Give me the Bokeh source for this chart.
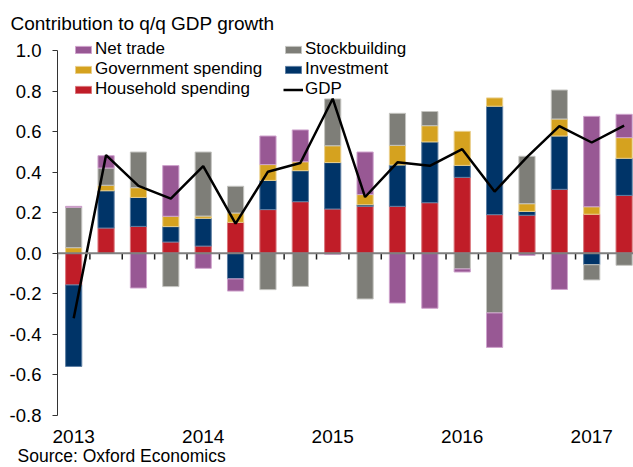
import numpy as np
from bokeh.plotting import figure
from bokeh.models import (Range1d, FixedTicker, Span, Legend, LegendItem,
                          ColumnDataSource, Title)
from bokeh.embed import file_html
from bokeh.resources import INLINE

# ---------------- data ----------------
quarters = ["2013Q1", "2013Q2", "2013Q3", "2013Q4",
            "2014Q1", "2014Q2", "2014Q3", "2014Q4",
            "2015Q1", "2015Q2", "2015Q3", "2015Q4",
            "2016Q1", "2016Q2", "2016Q3", "2016Q4",
            "2017Q1", "2017Q2"]
years = ["2013", "2014", "2015", "2016", "2017"]

household = [-0.156, 0.125, 0.133, 0.056, 0.036, 0.153, 0.216, 0.255, 0.219,
             0.232, 0.232, 0.250, 0.375, 0.191, 0.188, 0.316, 0.193, 0.286]
investment = [-0.402, 0.184, 0.143, 0.076, 0.137, -0.126, 0.144, 0.153, 0.229,
              0.008, 0.204, 0.300, 0.059, 0.535, 0.019, 0.263, -0.056, 0.183]
government = [0.028, 0.027, 0.048, 0.051, 0.011, 0.046, 0.078, 0.044, 0.083,
              0.050, 0.097, 0.080, 0.168, 0.041, 0.038, 0.084, 0.037, 0.102]
stockbuilding = [0.199, 0.085, 0.176, -0.164, 0.316, 0.132, -0.179, -0.163, 0.231,
                 -0.225, 0.158, 0.070, -0.077, -0.294, 0.234, 0.143, -0.075, -0.059]
net_trade = [0.005, 0.061, -0.171, 0.250, -0.074, -0.060, 0.141, 0.157, -0.005,
             0.210, -0.245, -0.271, -0.015, -0.170, -0.010, -0.178, 0.446, 0.115]
gdp = [-0.320, 0.485, 0.333, 0.270, 0.430, 0.147, 0.403, 0.446, 0.763,
       0.278, 0.449, 0.432, 0.514, 0.305, 0.475, 0.628, 0.547, 0.630]

y_ticks = [-0.8, -0.6, -0.4, -0.2, 0.0, 0.2, 0.4, 0.6, 0.8, 1.0]

series_names = ["Household spending", "Investment", "Government spending",
                "Stockbuilding", "Net trade"]
series_values = [household, investment, government, stockbuilding, net_trade]
fill_colors = ["#C01D28", "#003468", "#D5A21F", "#7E7E78", "#985894"]
edge_colors = ["#D9767C", "#5E7FA3", "#E9CF8C", "#C4C4C0", "#CFA3CD"]

FONT = "Liberation Sans"

n = len(quarters)
xc = np.arange(n) + 0.5

p = figure(width=633, height=467, x_range=Range1d(0, 17.79),
           y_range=Range1d(-0.8, 1.07), output_backend="svg",
           toolbar_location=None, min_border_left=57, min_border_right=0,
           min_border_top=36, min_border_bottom=52)
p.outline_line_color = None
p.xgrid.grid_line_color = None
p.ygrid.grid_line_color = None
p.background_fill_color = "white"
p.border_fill_color = "white"

# title
p.title.text = "Contribution to q/q GDP growth"
p.title.text_font = FONT
p.title.text_font_size = "19px"
p.title.text_font_style = "normal"
p.title.text_color = "#000000"
p.title.align = "left"
p.title.offset = -47
p.title.standoff = 5

# stacked bars (positive parts stack upward, negative parts downward)
pos_base = np.zeros(n)
neg_base = np.zeros(n)
renderers = {}
for name, vals, fc, ec in zip(series_names, series_values, fill_colors, edge_colors):
    v = np.array(vals, dtype=float)
    xs, bottoms, tops = [], [], []
    for i in range(n):
        if v[i] > 0:
            xs.append(xc[i]); bottoms.append(pos_base[i]); tops.append(pos_base[i] + v[i])
            pos_base[i] += v[i]
        elif v[i] < 0:
            xs.append(xc[i]); bottoms.append(neg_base[i] + v[i]); tops.append(neg_base[i])
            neg_base[i] += v[i]
    src = ColumnDataSource(dict(x=xs, bottom=bottoms, top=tops))
    r = p.vbar(x="x", bottom="bottom", top="top", width=0.5, source=src,
               fill_color=fc, line_color=ec, line_width=1)
    renderers[name] = r

# zero line and its ticks
zero = Span(location=0, dimension="width", line_color="#7F7F7F", line_width=2,
            level="glyph")
p.add_layout(zero)
bounds = np.arange(n)
p.segment(x0=bounds, y0=np.zeros(n), x1=bounds, y1=np.full(n, -0.03),
          line_color="#222222", line_width=1.5)

# GDP line
gdp_r = p.line(xc, gdp, line_color="black", line_width=2.5)

# y axis
p.yaxis.ticker = FixedTicker(ticks=y_ticks)
p.yaxis.major_label_overrides = {t: f"{t:.1f}" for t in y_ticks}
p.yaxis.bounds = (-0.8, 1.0)
p.yaxis.minor_tick_line_color = None
p.yaxis.major_tick_in = 0
p.yaxis.major_tick_out = 5
p.yaxis.axis_line_color = "#333333"
p.yaxis.major_tick_line_color = "#333333"
p.yaxis.major_label_text_font = FONT
p.yaxis.major_label_text_font_size = "18.5px"
p.yaxis.major_label_text_color = "#000000"
p.yaxis.major_label_standoff = 11

# x axis: year labels at first quarter of each year
year_ticks = [xc[quarters.index(y + "Q1")] for y in years]
p.xaxis.ticker = FixedTicker(ticks=year_ticks)
p.xaxis.major_label_overrides = {t: y for t, y in zip(year_ticks, years)}
p.xaxis.axis_line_color = None
p.xaxis.major_tick_line_color = None
p.xaxis.minor_tick_line_color = None
p.xaxis.major_tick_out = 0
p.xaxis.major_tick_in = 0
p.xaxis.major_label_standoff = 14
p.xaxis.major_label_text_font = FONT
p.xaxis.major_label_text_font_size = "19px"
p.xaxis.major_label_text_color = "#000000"

# source
src_title = Title(text="Source: Oxford Economics", align="left", offset=-40,
                  text_font=FONT, text_font_size="17.5px", text_font_style="normal",
                  text_color="#000000", standoff=-4)
p.add_layout(src_title, "below")

# legends (two columns)
def make_legend(items, x):
    return Legend(items=items, location=(x, 316), orientation="vertical",
                  label_text_font=FONT, label_text_font_size="17px",
                  label_text_color="#000000", glyph_width=20, glyph_height=9,
                  label_standoff=2, label_height=19, spacing=0, padding=0, margin=0,
                  border_line_color=None, background_fill_alpha=0)

leg1 = make_legend([LegendItem(label="Net trade", renderers=[renderers["Net trade"]]),
                    LegendItem(label="Government spending", renderers=[renderers["Government spending"]]),
                    LegendItem(label="Household spending", renderers=[renderers["Household spending"]])], 16)
leg2 = make_legend([LegendItem(label="Stockbuilding", renderers=[renderers["Stockbuilding"]]),
                    LegendItem(label="Investment", renderers=[renderers["Investment"]]),
                    LegendItem(label="GDP", renderers=[gdp_r])], 226)
p.add_layout(leg1, "center")
p.add_layout(leg2, "center")

open("out.html", "w").write(file_html(p, INLINE))
